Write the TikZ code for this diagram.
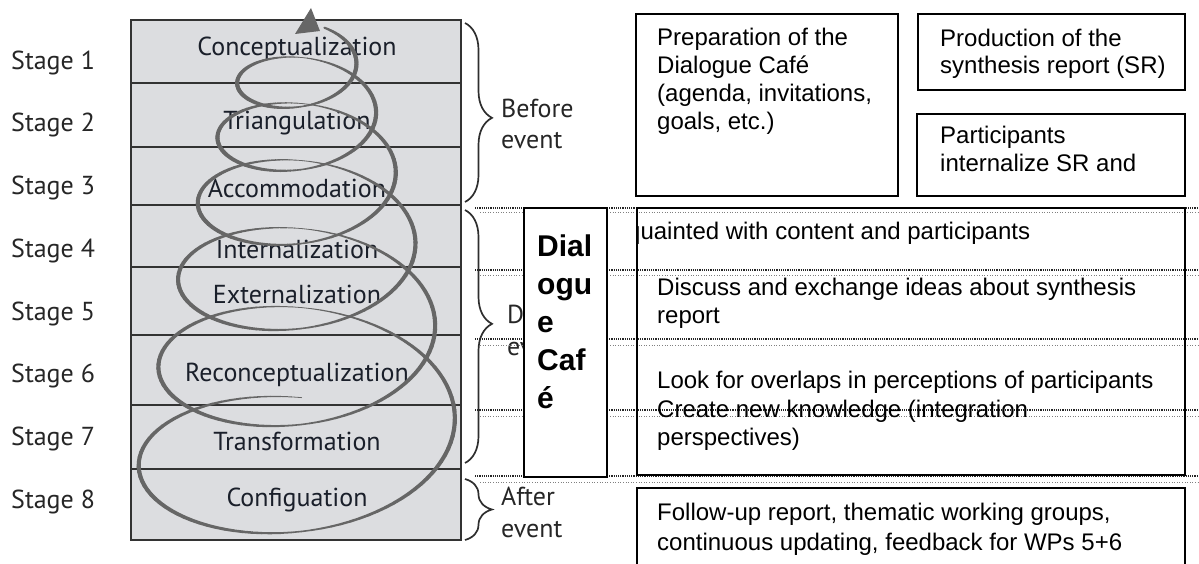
\documentclass[tikz,border=0pt]{standalone}
\usepackage{fontspec}
\setmainfont{Liberation Sans}
\newfontfamily\myr{PT Sans}
\usetikzlibrary{decorations.pathreplacing}
\definecolor{tablefill}{HTML}{DCDDE0}
\definecolor{spiralc}{HTML}{666666}
\definecolor{stagetxt}{HTML}{262626}
\definecolor{rowtxt}{HTML}{1A1F2A}
\definecolor{bracec}{HTML}{2E2E2E}
\tikzset{
  stagelbl/.style={font=\myr\fontsize{26}{30}\selectfont, text=stagetxt, anchor=base west, inner sep=0pt},
  rowlbl/.style={font=\myr\fontsize{26}{30}\selectfont, text=rowtxt, anchor=base, inner sep=0pt},
  evlbl/.style={font=\myr\fontsize{26}{30}\selectfont, text=stagetxt, anchor=base west, inner sep=0pt},
  bodytxt/.style={font=\fontsize{24}{28}\selectfont, anchor=base west, inner sep=0pt},
  cafetxt/.style={font=\bfseries\fontsize{30}{36}\selectfont, anchor=base west, inner sep=0pt},
  boxline/.style={draw=black, line width=1.9pt},
  tableline/.style={draw=black!80, line width=1.3pt},
  dotdark/.style={draw=black!85, line width=1.1pt, dash pattern=on 1.1pt off 1.1pt},
  dotfaint/.style={draw=black!50, line width=1pt, dash pattern=on 1pt off 1.6pt},
  bracestyle/.style={draw=bracec, line width=1.7pt, decorate, decoration={brace, amplitude=27pt, aspect=#1}},
  bracestyle/.default=0.5,
}
\begin{document}
\begin{tikzpicture}[x=1pt,y=-1pt]
\useasboundingbox (0,0) rectangle (1199,564);
% table
\fill[tablefill] (131,20) rectangle (461,540);
\foreach \yy in {83,147,205,267,335,405,469} {\draw[tableline] (131,\yy) -- (461,\yy);}
\draw[tableline] (131,20) rectangle (461,540);
% row labels
\node[rowlbl] (r1) at (297,56) {Conceptualization};
\node[rowlbl] (r2) at (297,130) {Triangulation};
\node[rowlbl] (r3) at (297,198) {Accommodation};
\node[rowlbl] (r4) at (297,258) {Internalization};
\node[rowlbl] (r5) at (297,303) {Externalization};
\node[rowlbl] (r6) at (297,381) {Reconceptualization};
\node[rowlbl] (r7) at (297,450) {Transformation};
\node[rowlbl] (r8) at (297,506) {Configuation};
% spiral
\foreach \i in {0,...,592}{
  \pgfmathsetmacro\sa{-0.25+0.01*\i}
  \pgfmathsetmacro\sb{\sa+0.01}
  \pgfmathsetmacro\xa{301.7-(163-19.7*\sa)*cos(360*\sa)}
  \pgfmathsetmacro\ya{467-104*\sa+5.5*\sa*\sa+0.57*(163-19.7*\sa)*sin(360*\sa)}
  \pgfmathsetmacro\xb{301.7-(163-19.7*\sb)*cos(360*\sb)}
  \pgfmathsetmacro\yb{467-104*\sb+5.5*\sb*\sb+0.57*(163-19.7*\sb)*sin(360*\sb)}
  \pgfmathsetmacro\w{max(0.7,1.1+3.0*abs(cos(360*\sa+1.8))+0.4*sin(360*\sa))}
  \draw[draw=spiralc, line width=\w pt, line cap=round] (\xa,\ya) -- (\xb,\yb);
}
\fill[spiralc] (311,8) -- (295,34) -- (320,31) -- cycle;
% stage labels
\node[stagelbl] (s1) at (11,70) {Stage 1};
\node[stagelbl] (s2) at (11,132) {Stage 2};
\node[stagelbl] (s3) at (11,195) {Stage 3};
\node[stagelbl] (s4) at (11,257) {Stage 4};
\node[stagelbl] (s5) at (11,320) {Stage 5};
\node[stagelbl] (s6) at (11,382) {Stage 6};
\node[stagelbl] (s7) at (11,445) {Stage 7};
\node[stagelbl] (s8) at (11,508) {Stage 8};
% braces
\draw[bracestyle=0.53] (465,23) -- (465,202);
\draw[bracestyle=0.45] (465,210) -- (465,463);
\draw[bracestyle=0.5] (465,479) -- (465,540);
\node[evlbl] (b1) at (501,118) {Before};
\node[evlbl] (b2) at (501,149) {event};
\node[evlbl] (d1) at (507,323) {D};
\node[evlbl] (d2) at (507,355) {ev};
\node[evlbl] (a1) at (501,505) {After};
\node[evlbl] (a2) at (501,537) {event};
% dotted lines
\foreach \yy/\yf in {208/213,270/275,339/345,410/416,476/482}{
  \draw[dotdark] (475,\yy) -- (1199,\yy);
  \draw[dotfaint] (480,\yf) -- (1199,\yf);
}
% boxes
\draw[boxline] (636,14) rectangle (898,196);
\draw[boxline] (918,14) rectangle (1185,90);
\draw[boxline] (917,114) rectangle (1185,196);
\draw[boxline] (637,208) rectangle (1185,475);
\draw[boxline] (637,488) rectangle (1185,567);
\draw[boxline, fill=white] (524,208) rectangle (607,477);
% box texts
\node[bodytxt] (p1) at (657,46) {Preparation of the};
\node[bodytxt] (p2) at (657,74) {Dialogue Café};
\node[bodytxt] (p3) at (657,102) {(agenda, invitations,};
\node[bodytxt] (p4) at (657,130) {goals, etc.)};
\node[bodytxt] (q1) at (940,47) {Production of the};
\node[bodytxt] (q2) at (940,74) {synthesis report (SR)};
\node[bodytxt] (i1) at (940,144) {Participants};
\node[bodytxt] (i2) at (940,172) {internalize SR and};
\begin{scope}
  \clip (638.5,212) rectangle (1183,262);
  \node[bodytxt] (g1) at (627,240) {quainted with content and participants};
\end{scope}
\node[bodytxt] (e1) at (657,295) {Discuss and exchange ideas about synthesis};
\node[bodytxt] (e2) at (657,323) {report};
\node[bodytxt] (l1) at (657,388) {Look for overlaps in perceptions of participants};
\node[bodytxt] (l2) at (657,417) {Create new knowledge (integration};
\node[bodytxt] (l3) at (657,445) {perspectives)};
\node[bodytxt] (f1) at (657,520) {Follow-up report, thematic working groups,};
\node[bodytxt] (f2) at (657,550) {continuous updating, feedback for WPs 5+6};
% Dialogue Cafe
\node[cafetxt] (c1) at (537,256) {Dial};
\node[cafetxt] (c2) at (537,294) {ogu};
\node[cafetxt] (c3) at (537,332) {e};
\node[cafetxt] (c4) at (537,370) {Caf};
\node[cafetxt] (c5) at (537,408) {é};
\end{tikzpicture}
\end{document}
